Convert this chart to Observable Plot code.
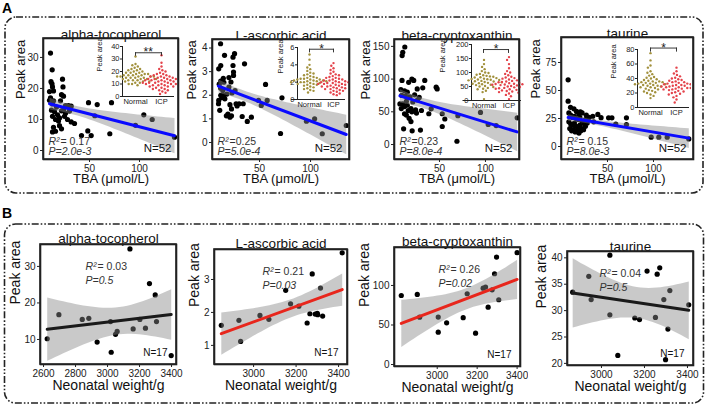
<!DOCTYPE html>
<html><head><meta charset="utf-8">
<script src="https://cdn.jsdelivr.net/npm/d3@7"></script>
<script src="https://cdn.jsdelivr.net/npm/@observablehq/plot@0.6"></script>
<style>
body{margin:0;background:#fff;}
#root{position:relative;width:708px;height:407px;overflow:hidden;background:#fff;}
#root > svg{position:absolute;}
</style></head><body><div id="root"></div>
<script>
// ---------- DATA ----------
// Row A: TBA (µmol/L) vs Peak area, N=52
const aAlphaPts = [[49,15.4],[57.7,14.8],[72,15.4],[42,4.8],[48.3,6.3],[51.7,4.8],[70.3,5.4],[96,8.1],[104.3,11.5],[112.7,10],[135,4.3],[55.3,11.2],[31.7,9.2],[35,8.7],[31.7,14.3],[30,12.7],
 [11,31.4],[12.7,26],[11.5,22.2],[12.5,21.5],[13,20.5],[10,19],[14,19.2],[11,17],[14,16],[10,16.2],[13,15],[17,14],[12,13],[15,12.5],[18,11.5],[13,11],[16,10],[19,9.5],[14,7.5],[13,6],[16,6.2],[20,8],[22,7],[23,23],[23.5,20.5],[22,18],[24,17.5],[21,16],[24,13],[26,12],[25,11],[28,10],[22,12.8],[26,14.5],[29,14.5],[20,10.5]];
const aAscorbPts = [[55.9,2.46],[49,1.78],[51.7,1.57],[57.5,1.78],[70.6,0.38],[72,1.89],[96,0.9],[104,1.0],[111.5,0.37],[135,0.72],[35.3,3.33],[33,1.1],[42,1.07],[38,0.89],[30,1.64],[34,1.64],
 [11.8,4.18],[15.7,3.69],[10,3.12],[12,3.26],[24,3.61],[25.5,3.76],[24,3.26],[24.5,2.98],[24.5,2.84],[12,2.6],[14.5,2.72],[15,2.55],[10.5,2.47],[22,2.56],[20,2.35],[12,2.3],[14,2.2],[12,2.0],[15,2.0],[10,1.78],[9.8,1.64],[11,1.36],[21,1.6],[22.5,1.42],[19,1.2],[17.5,1.13],[21,1.07],[22.5,1.13],[27,1.64],[28,1.55],[16,1.85],[18,2.05],[13,1.9],[26,2.2],[20,2.75],[23,2.1]];
const aBetaPts = [[30.4,52],[38.4,47],[41,54.6],[53,47],[55.8,39],[53,27.5],[69,5],[70,44],[94.6,49],[103,30.6],[111.6,29],[134.5,40.8],[46.4,87.6],[47.5,85],[34,98],[31.8,86.7],[25.8,85],[20.3,21],[29.3,22],
 [12.3,149],[10.1,141],[9.4,136],[9.3,98],[16.5,95],[20,100],[22,98],[8,84],[12,82],[15,80],[9,75],[13,74],[18,73],[23,76],[10,62],[12,58],[15,60],[19,55],[24,53],[7,62],[8.5,55],[12,47],[14,45],[16,52],[20,50],[25,48],[11,24],[17,40],[21,65],[26,68],[14,66],[28,72],[19,35]];
const aTaurPts = [[7.2,59.5],[7.2,40.5],[39.5,28.6],[51.2,25.6],[54.8,25.6],[70.6,25.6],[70.6,19.6],[59,20],[97.5,8.3],[105.8,8.3],[114.9,8.3],[138.4,6.8],[43,25.7],[35,22],[34,27],
 [9.8,35],[13.5,33.6],[16.3,31.3],[18.8,29],[20.5,31],[22.4,30],[27,28],[30,26],[8,30],[10,28],[12,26],[14,27],[16,25],[18,24],[20,26],[22,23],[24,22],[26,24],[28,21],[8,22],[10,20],[12,19],[14,21],[16,18],[18,17],[20,19],[22,16],[24,15],[26,18],[9,16],[11,14],[13,15],[15,13],[17,14],[19,12],[21,14],[25,20]];

// Row B: Neonatal weight/g vs Peak area, N=17
const bAlphaPts = [[2623,10.2],[2696,16.8],[2842,15.5],[2883,15.8],[2935,9.3],[3019,14.9],[3023,6.5],[3050,11.4],[3060,12.2],[3140,34.8],[3160,12.9],[3202,15.5],[3237,13.1],[3262,25.3],[3298,22.2],[3306,14.9],[3398,5.6]];
const bAscorbPts = [[2848,1.61],[2931,1.76],[2939,1.12],[3030,1.91],[3072,1.79],[3151,2.67],[3174,2.26],[3213,2.19],[3252,1.68],[3265,1.96],[3276,3.17],[3290,1.95],[3300,1.97],[3302,1.93],[3315,2.74],[3325,1.89],[3417,3.81]];
const bBetaPts = [[2820,87.3],[2900,88.6],[2912,59.9],[3005,60],[3005,40.9],[3047,52.7],[3130,59.2],[3150,89.5],[3192,39.7],[3230,96.6],[3242,97.9],[3255,72.5],[3275,94.5],[3287,114.8],[3297,135.9],[3308,81.9],[3400,141.4]];
const bTaurPts = [[2866,33.5],[2941,36.5],[2952,32.1],[3039,40.5],[3039,29.2],[3076,21.5],[3155,28.6],[3177,28.3],[3212,37.5],[3251,28.7],[3259,36.9],[3271,38.1],[3290,32.1],[3298,20.7],[3309,26.5],[3318,33.8],[3406,31.1]];

const compounds = ["alpha-tocopherol", "L-ascorbic acid", "beta-cryptoxanthin", "taurine"];
const aR2 = ["= 0.17", "=0.25", "=0.23", "= 0.15"];
const aP = ["P=2.0e-3", "P=5.0e-4", "P=8.0e-4", "P=8.0e-3"];
const bR2 = ["= 0.03", "= 0.21", "= 0.26", "= 0.04"];
const bP = ["P=0.5", "P=0.03", "P=0.02", "P=0.5"];

// Insets (Normal vs ICP)
const groups = ["Normal", "ICP"];
const inAlphaNormal = [32,26,25,24,23,22,22,21,21,20,20,19,19,19,18,18,18,17,17,17,17,16,16,16,16,16,15,15,15,15,14,14,14,14,13,13,13,12,12,12,11,11,10,10,9];
const inAlphaICP = [33,27,24,22,21,20,19,18,18,17,17,16,16,16,15,15,15,14,14,14,14,13,13,13,13,12,12,12,12,11,11,11,11,10,10,10,10,9,9,9,8,8,8,7,7,6,6,5,5,4,3,2];
const inAscorbNormal = [5.2,4.6,4.0,3.7,3.5,3.3,3.1,3.0,2.9,2.8,2.7,2.6,2.5,2.5,2.4,2.4,2.3,2.3,2.3,2.2,2.2,2.2,2.1,2.1,2.1,2.0,2.0,2.0,1.9,1.9,1.8,1.8,1.7,1.7,1.6,1.5,1.4,1.3,1.2,1.1,1.0,0.8];
const inAscorbICP = [4.2,3.9,3.6,3.4,3.2,3.0,2.9,2.8,2.7,2.6,2.5,2.5,2.4,2.3,2.3,2.2,2.2,2.1,2.1,2.0,2.0,2.0,1.9,1.9,1.8,1.8,1.8,1.7,1.7,1.6,1.6,1.5,1.5,1.4,1.4,1.3,1.3,1.2,1.2,1.1,1.0,1.0,0.9,0.8,0.7,0.6,0.5];
const inBetaNormal = [145,130,120,112,105,100,98,95,92,90,88,86,85,83,82,80,78,77,76,75,74,73,72,70,69,68,66,65,63,62,60,58,56,55,52,50,48,45,42,40,35,30,5];
const inBetaICP = [155,145,130,115,105,100,95,90,85,82,80,78,75,72,70,68,66,65,63,62,60,59,58,57,56,55,54,52,50,48,47,45,44,42,40,38,36,34,32,30,28,25,20,15,5];
const inTaurNormal = [75,65,58,55,50,48,46,44,42,41,40,39,38,37,36,36,35,35,34,34,33,33,32,32,31,31,30,30,29,28,28,27,26,25,24,23,22,21,20,18,16,13];
const inTaurICP = [55,50,47,45,43,41,40,39,38,37,36,35,35,34,33,33,32,32,31,31,30,30,29,29,28,28,27,27,26,26,25,25,24,23,22,21,20,19,18,16,14,11,7];
const insetStars = ["**", "*", "*", "*"];
const insetBracket = [35, 5.8, 182, 82];

// ---------- DRAW ----------
const FONT = '"Liberation Sans", Arial, Helvetica, sans-serif';
const root = document.getElementById("root");
function place(svg, left, top) { svg.style.left = left + "px"; svg.style.top = top + "px"; root.appendChild(svg); }
const baseStyle = {fontFamily: FONT, fontSize: "10px", color: "#222", background: "transparent"};

function drawMain(c) {
  const [fl, ft, fr, fb] = c.frame;
  const mL = 46, mR = 8, mT = 24, mB = 38;
  const rowA = c.row === "A";
  const anchor = rowA ? "bottom-left" : "top-left";
  const svg = Plot.plot({
    width: fr - fl + mL + mR, height: fb - ft + mT + mB,
    marginLeft: mL, marginRight: mR, marginTop: mT, marginBottom: mB,
    style: baseStyle,
    x: {domain: c.xDomain, ticks: c.xTicks, tickFormat: "d", tickSize: 3, tickPadding: 2, label: null},
    y: {domain: c.yDomain, ticks: c.yTicks, tickFormat: "d", tickSize: 3, tickPadding: 2, label: null},
    marks: [
      Plot.dot(c.pts, {x: d => d[0], y: d => d[1], r: 2.6, fill: "#000"}),
      Plot.linearRegressionY(c.pts, {x: d => d[0], y: d => d[1], stroke: c.line, strokeWidth: 3, fill: "#888", fillOpacity: 0.45}),
      Plot.frame({stroke: "#222", strokeWidth: 1.6}),
      Plot.text([c.title], {frameAnchor: "top", dy: -c.titleOff, fontSize: 13.5, fill: "#111"}),
      Plot.text([c.xLabel], {frameAnchor: "bottom", dy: c.xlabOff, fontSize: rowA ? 13 : 14, fill: "#111"}),
      Plot.text(["Peak area"], {frameAnchor: "left", dx: -c.ylabOff, rotate: -90, fontSize: rowA ? 13 : 14, fill: "#111"}),
      Plot.text(["R²"], {frameAnchor: anchor, dx: c.annDx, dy: c.r2Dy, fontSize: 10.5, fontStyle: "italic", fill: "#333"}),
      Plot.text([c.r2], {frameAnchor: anchor, dx: c.annDx + 12, dy: c.r2Dy, fontSize: 10.5, fill: "#333"}),
      Plot.text([c.pv], {frameAnchor: anchor, dx: c.annDx, dy: c.pDy, fontSize: 10.5, fontStyle: "italic", fill: "#333"}),
      Plot.text([c.n], {frameAnchor: "bottom-right", dx: -c.nDx, dy: -c.nDy, fontSize: rowA ? 11.5 : 10, fill: "#111"})
    ]
  });
  place(svg, fl - mL, ft - mT);
}

function drawInset(c) {
  const rows = c.normal.map(v => ({g: "Normal", v})).concat(c.icp.map(v => ({g: "ICP", v})));
  const b = c.c2 - c.c1;
  const gap = Math.max(0, c.c1 - b / 2 - c.axisX);
  const p = gap / b;
  const left = c.labelX - 6;
  const mL = c.axisX - left, mR = 2, mT = 12, mB = 13;
  const right = c.c2 + b / 2 + gap;
  const width = right - left + mR;
  const height = mT + (c.zero - c.top) + mB;
  const common = {width, height, marginLeft: mL, marginRight: mR, marginTop: mT, marginBottom: mB, style: {...baseStyle, fontSize: "7.5px"}};
  const dots = Plot.plot({
    ...common,
    facet: {data: rows, x: "g"},
    fx: {domain: groups, paddingInner: 0, paddingOuter: p, axis: "bottom", label: null, tickSize: 0, tickPadding: 2},
    y: {domain: [0, c.yMax], ticks: c.yTicks, tickFormat: "d", tickSize: 2, tickPadding: 1, line: true, label: null},
    color: {domain: groups, range: ["#a2913d", "#e4434b"]},
    marks: [
      Plot.ruleY([0], {insetLeft: -gap, stroke: "#222", strokeWidth: 1}),
      Plot.dot(rows, Plot.dodgeX("middle", {y: "v", r: 1.2, fill: "g", padding: -1.1}))
    ]
  });
  place(dots, left, c.top - mT);
  const over = Plot.plot({
    ...common,
    x: {type: "point", domain: groups, padding: p + 0.5, axis: null},
    y: {domain: [0, c.yMax], axis: null},
    marks: [
      Plot.line(groups.map(g => ({g, v: c.bracket})), {x: "g", y: "v", stroke: "#222", strokeWidth: 0.9}),
      Plot.ruleX(groups, {x: d => d, y1: c.bracket, y2: c.bracket - c.yMax * 0.07, stroke: "#222", strokeWidth: 0.9}),
      Plot.text([c.stars], {y: () => c.bracket, frameAnchor: "top", dy: -5, fontSize: 12, fill: "#222"}),
      Plot.text(["Peak area"], {frameAnchor: "left", dx: -(c.axisX - c.labelX), rotate: -90, fontSize: 7.5, fill: "#222"})
    ]
  });
  place(over, left, c.top - mT);
}

const aPts = [aAlphaPts, aAscorbPts, aBetaPts, aTaurPts];
const bPts = [bAlphaPts, bAscorbPts, bBetaPts, bTaurPts];
const aFrames = [[43,38,178,159],[212,39,349,159],[394,39,519,159],[561,37,693,159]];
const aXDom = [[4,139],[3.9,138.2],[1.1,137],[0,143.5]];
const aYDom = [[-2.9,36.1],[-0.72,4.36],[-22.9,160.5],[-11.6,97.3]];
const aYTicks = [[0,10,20,30],[0,1,2,3,4],[0,50,100,150],[0,25,50,75]];
const aYlab = [23, 21, 29, 26];
const bFrames = [[40,244,176,364],[214,249,347,364],[394,247,520,366],[567,251,693,365]];
const bXDom = [[2581,3431],[2816,3442],[2786,3417],[2842,3428]];
const bYDom = [[3.15,36],[0.42,3.91],[-2.5,148],[19.6,41.2]];
const bXTicks = [[2600,2800,3000,3200,3400],[3000,3200,3400],[3000,3200,3400],[3000,3200,3400]];
const bYTicks = [[10,20,30],[1,2,3],[0,50,100],[20,25,30,35,40]];
const bYlab = [25, 20, 30, 26];
const bLine = ["#1a1a1a", "#e8261c", "#e8261c", "#1a1a1a"];
const bAnnDx = [45, 48, 44, 32];
const bTitleOff = [11, 11, 11, 10];

for (let i = 0; i < 4; i++) {
  drawMain({row: "A", pts: aPts[i], frame: aFrames[i], xDomain: aXDom[i], yDomain: aYDom[i], xTicks: [50,100], yTicks: aYTicks[i],
    title: compounds[i], xLabel: "TBA (μmol/L)", line: "#0a0aff", titleOff: 9, xlabOff: 23, ylabOff: aYlab[i],
    r2: aR2[i], pv: aP[i], annDx: 5, r2Dy: -15, pDy: -5, n: "N=52", nDx: 7, nDy: 8});
}
for (let i = 0; i < 4; i++) {
  drawMain({row: "B", pts: bPts[i], frame: bFrames[i], xDomain: bXDom[i], yDomain: bYDom[i], xTicks: bXTicks[i], yTicks: bYTicks[i],
    title: compounds[i], xLabel: "Neonatal weight/g", line: bLine[i], titleOff: bTitleOff[i], xlabOff: 25, ylabOff: bYlab[i],
    r2: bR2[i], pv: bP[i], annDx: bAnnDx[i], r2Dy: 18, pDy: 32, n: "N=17", nDx: 9, nDy: 9});
}

const insetGeo = [
  {labelX: 99, axisX: 121, top: 46, zero: 96, c1: 134, c2: 161, yMax: 40, yTicks: [0,10,20,30,40]},
  {labelX: 280, axisX: 291, top: 47, zero: 99, c1: 309, c2: 333, yMax: 6, yTicks: [0,2,4,6]},
  {labelX: 442, axisX: 462, top: 44, zero: 100, c1: 483, c2: 508, yMax: 200, yTicks: [0,50,100,150,200]},
  {labelX: 613, axisX: 637, top: 49, zero: 107, c1: 650, c2: 676, yMax: 80, yTicks: [0,20,40,60,80]}
];
const insetNormal = [inAlphaNormal, inAscorbNormal, inBetaNormal, inTaurNormal];
const insetICP = [inAlphaICP, inAscorbICP, inBetaICP, inTaurICP];
for (let i = 0; i < 4; i++) {
  drawInset({...insetGeo[i], normal: insetNormal[i], icp: insetICP[i], bracket: insetBracket[i], stars: insetStars[i]});
}

// decorative: plot frames repeated on top, panel boxes, panel letters
const frameRects = aFrames.concat(bFrames).map(([l, t, r, b]) =>
  `<rect x="${l}" y="${t}" width="${r - l}" height="${b - t}" fill="none" stroke="#222" stroke-width="1.6"/>`).join("");
root.insertAdjacentHTML("beforeend",
 `<svg width="708" height="407" style="left:0;top:0;pointer-events:none" xmlns="http://www.w3.org/2000/svg">
  ${frameRects}
  <rect x="5" y="17" width="698" height="176" rx="11" fill="none" stroke="#222" stroke-width="1.6" stroke-dasharray="7 2 1.6 2 1.6 2"/>
  <rect x="4.5" y="224" width="699" height="179" rx="11" fill="none" stroke="#222" stroke-width="1.6" stroke-dasharray="7 2 1.6 2 1.6 2"/>
  <text x="2" y="13" font-family='${FONT}' font-weight="bold" font-size="14">A</text>
  <text x="2" y="218" font-family='${FONT}' font-weight="bold" font-size="14">B</text>
 </svg>`);
</script></body></html>
